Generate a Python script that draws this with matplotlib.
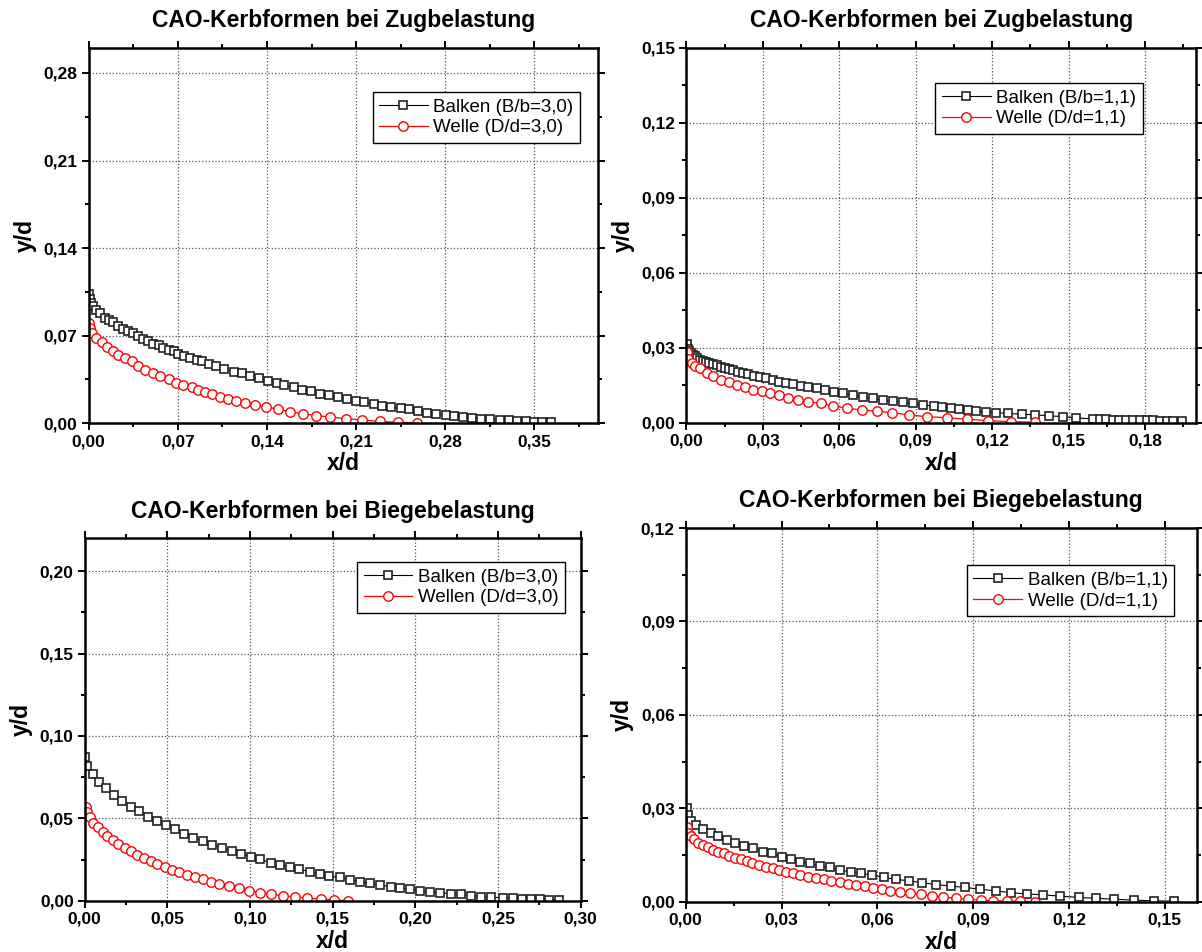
import matplotlib
matplotlib.use("Agg")
import matplotlib.pyplot as plt
from matplotlib.ticker import MultipleLocator, FuncFormatter

plt.rcParams['font.family'] = ['Liberation Sans', 'DejaVu Sans']

# --- Zugbelastung, B/b = D/d = 3,0 ---
x_balken_z30 = [0.0, 0.0008, 0.002, 0.0036, 0.0057, 0.0089, 0.0128, 0.0162, 0.0194, 0.0233,
                0.0272, 0.0312, 0.0351, 0.039, 0.043, 0.0469, 0.0508, 0.0555, 0.0587, 0.0634,
                0.0666, 0.0705, 0.075, 0.0797, 0.085, 0.0889, 0.0941, 0.1002, 0.1065, 0.1144,
                0.1204, 0.1269, 0.1334, 0.1405, 0.1479, 0.1537, 0.161, 0.1676, 0.1747, 0.1814,
                0.1885, 0.1956, 0.203, 0.2103, 0.2166, 0.2239, 0.2305, 0.2376, 0.2449, 0.2515,
                0.2585, 0.2654, 0.2725, 0.2803, 0.2869, 0.2943, 0.3013, 0.3084, 0.3154, 0.323,
                0.3301, 0.3367, 0.3432, 0.3498, 0.3564, 0.363]
y_balken_z30 = [0.103, 0.099, 0.096, 0.0934, 0.0908, 0.0881, 0.0845, 0.0828, 0.0809, 0.078,
                0.0753, 0.0734, 0.0718, 0.0700, 0.0675, 0.0660, 0.0636, 0.0625, 0.0604, 0.0588,
                0.0574, 0.0556, 0.054, 0.0522, 0.0507, 0.0495, 0.0474, 0.0455, 0.0436, 0.041,
                0.0399, 0.0375, 0.0362, 0.0338, 0.0325, 0.0302, 0.0292, 0.0265, 0.0255, 0.0237,
                0.0226, 0.0209, 0.0195, 0.0181, 0.0168, 0.0152, 0.0139, 0.0128, 0.0119, 0.011,
                0.0097, 0.0085, 0.0078, 0.007, 0.0059, 0.0051, 0.0044, 0.0038, 0.0032, 0.003,
                0.0024, 0.0019, 0.0016, 0.0013, 0.001, 0.0008]
x_welle_z30 = [0.0, 0.0008, 0.0024, 0.0057, 0.0102, 0.0142, 0.0189, 0.0233, 0.0286, 0.0338,
               0.039, 0.0443, 0.0504, 0.0561, 0.0627, 0.0687, 0.0744, 0.081, 0.0862, 0.0915,
               0.0968, 0.1028, 0.1094, 0.1159, 0.123, 0.1308, 0.1395, 0.1484, 0.1578, 0.1684,
               0.1788, 0.1893, 0.2017, 0.2148, 0.2286, 0.2428, 0.258]
y_welle_z30 = [0.080, 0.076, 0.0721, 0.0681, 0.0646, 0.0609, 0.0579, 0.0547, 0.0521, 0.0494,
               0.0454, 0.0427, 0.0401, 0.0379, 0.0353, 0.0325, 0.0302, 0.0288, 0.0267, 0.0253,
               0.0232, 0.0213, 0.0190, 0.0177, 0.0165, 0.0147, 0.0132, 0.0112, 0.0093, 0.0075,
               0.0061, 0.0050, 0.0037, 0.0026, 0.0015, 0.0008, 0.0003]

# --- Zugbelastung, B/b = D/d = 1,1 ---
x_balken_z11 = [0.0003, 0.0007, 0.0011, 0.0018, 0.0024, 0.0033, 0.0042, 0.0053, 0.0064, 0.0077,
                0.009, 0.0103, 0.0119, 0.0134, 0.0151, 0.0168, 0.0184, 0.0203, 0.0223, 0.0243,
                0.0265, 0.0289, 0.0312, 0.0338, 0.0364, 0.0391, 0.0419, 0.0448, 0.0478, 0.0511,
                0.0544, 0.0579, 0.0616, 0.0652, 0.0692, 0.0731, 0.077, 0.081, 0.0849, 0.089,
                0.093, 0.0972, 0.1005, 0.1038, 0.107, 0.1105, 0.1138, 0.1175, 0.1215, 0.1263,
                0.1316, 0.1368, 0.1424, 0.1477, 0.1529, 0.1597, 0.1623, 0.1647, 0.1673, 0.1699,
                0.1726, 0.1754, 0.178, 0.1807, 0.1833, 0.1859, 0.1885, 0.1911, 0.1944]
y_balken_z11 = [0.0316, 0.0296, 0.0287, 0.0279, 0.0272, 0.0266, 0.0259, 0.0252, 0.0247, 0.0243,
                0.0239, 0.0234, 0.023, 0.0223, 0.0219, 0.0214, 0.021, 0.0203, 0.0197, 0.0193,
                0.0187, 0.0181, 0.0177, 0.017, 0.0163, 0.0159, 0.0154, 0.0147, 0.0141, 0.0137,
                0.013, 0.0123, 0.0117, 0.011, 0.0104, 0.0097, 0.009, 0.0087, 0.0081, 0.0077,
                0.0071, 0.0066, 0.0061, 0.0057, 0.0053, 0.0049, 0.0046, 0.0043, 0.004, 0.0037,
                0.0034, 0.0031, 0.0028, 0.0024, 0.0019, 0.0015, 0.0014, 0.0013, 0.0012, 0.0012,
                0.0011, 0.001, 0.001, 0.0009, 0.0009, 0.0008, 0.0007, 0.0006, 0.0005]
x_welle_z11 = [0.0001, 0.0007, 0.002, 0.0033, 0.0053, 0.0079, 0.0105, 0.0134, 0.0168, 0.0199,
               0.023, 0.0262, 0.0295, 0.0328, 0.0364, 0.04, 0.0439, 0.0478, 0.0527, 0.0576,
               0.0631, 0.0688, 0.0747, 0.0806, 0.0875, 0.0945, 0.1022, 0.11, 0.1185, 0.1273,
               0.1368]
y_welle_z11 = [0.0283, 0.0256, 0.0237, 0.0226, 0.0217, 0.0199, 0.0186, 0.0172, 0.0162, 0.015,
               0.0141, 0.0131, 0.0125, 0.0117, 0.011, 0.01, 0.0091, 0.0084, 0.0077, 0.0067,
               0.0058, 0.0051, 0.0046, 0.004, 0.0031, 0.0024, 0.002, 0.0014, 0.0008, 0.0004,
               0.0002]

# --- Biegebelastung, B/b = D/d = 3,0 ---
x_balken_b30 = [0.0002, 0.0012, 0.0048, 0.0088, 0.0129, 0.0177, 0.0224, 0.0278, 0.033, 0.0385,
                0.0439, 0.0492, 0.0546, 0.0601, 0.0657, 0.0714, 0.0768, 0.0829, 0.0889, 0.0944,
                0.1004, 0.1061, 0.1125, 0.1181, 0.1242, 0.1298, 0.1363, 0.1423, 0.148, 0.1544,
                0.1605, 0.1665, 0.1726, 0.1786, 0.1851, 0.1907, 0.1968, 0.2028, 0.2089, 0.2149,
                0.2214, 0.2275, 0.2337, 0.2396, 0.2456, 0.2529, 0.2589, 0.2644, 0.2698, 0.2754,
                0.2811, 0.2868]
y_balken_b30 = [0.0874, 0.0818, 0.0769, 0.0723, 0.0682, 0.0642, 0.0607, 0.0571, 0.0545, 0.051,
                0.0484, 0.046, 0.0433, 0.0405, 0.0383, 0.0362, 0.0338, 0.0322, 0.0302, 0.0284,
                0.0267, 0.0251, 0.0231, 0.0217, 0.0203, 0.0191, 0.0176, 0.016, 0.015, 0.0141,
                0.0127, 0.0116, 0.0106, 0.0095, 0.0085, 0.0076, 0.0069, 0.0061, 0.0055, 0.0049,
                0.0042, 0.0038, 0.0031, 0.0025, 0.0021, 0.0018, 0.0015, 0.0011, 0.0009, 0.0008,
                0.0006, 0.0004]
x_welle_b30 = [0.0008, 0.0016, 0.0032, 0.0052, 0.0082, 0.0109, 0.0137, 0.0169, 0.0203, 0.0244,
               0.0278, 0.0318, 0.0359, 0.0399, 0.0439, 0.0486, 0.0526, 0.0572, 0.0617, 0.0667,
               0.0714, 0.0762, 0.0814, 0.0875, 0.0935, 0.0996, 0.1061, 0.1125, 0.1198, 0.1272,
               0.1347, 0.1428, 0.1508, 0.1595]
y_welle_b30 = [0.0571, 0.054, 0.0506, 0.0474, 0.0446, 0.0419, 0.0393, 0.0369, 0.0344, 0.0318,
               0.0302, 0.0278, 0.0258, 0.0242, 0.0223, 0.0206, 0.0187, 0.0172, 0.0157, 0.0145,
               0.0132, 0.0116, 0.0102, 0.0089, 0.0075, 0.0061, 0.0049, 0.0041, 0.003, 0.0023,
               0.0015, 0.001, 0.0004, 0.0001]

# --- Biegebelastung, B/b = D/d = 1,1 ---
x_balken_b11 = [0.0003, 0.0008, 0.0016, 0.0032, 0.0055, 0.0078, 0.0102, 0.0128, 0.0154, 0.0182,
                0.0211, 0.0241, 0.0269, 0.03, 0.0329, 0.0359, 0.0388, 0.042, 0.0451, 0.0482,
                0.0516, 0.055, 0.0584, 0.062, 0.0657, 0.0699, 0.0741, 0.0784, 0.0831, 0.0876,
                0.0922, 0.097, 0.1019, 0.1068, 0.112, 0.1172, 0.123, 0.1284, 0.1342, 0.1404,
                0.1467, 0.1529]
y_balken_b11 = [0.030, 0.0279, 0.026, 0.0246, 0.0233, 0.0222, 0.0211, 0.0198, 0.019, 0.0179,
                0.0172, 0.0161, 0.0155, 0.0145, 0.0136, 0.0128, 0.0123, 0.0115, 0.011, 0.0102,
                0.0096, 0.0091, 0.0085, 0.0078, 0.0072, 0.0067, 0.0061, 0.0055, 0.005, 0.0046,
                0.004, 0.0035, 0.0029, 0.0025, 0.0022, 0.0018, 0.0014, 0.0011, 0.0008, 0.0005,
                0.0003, 0.0002]
x_welle_b11 = [0.0003, 0.0008, 0.0016, 0.0026, 0.0039, 0.0055, 0.0071, 0.0086, 0.0102, 0.012,
               0.0136, 0.0154, 0.0172, 0.0191, 0.0209, 0.023, 0.0251, 0.0272, 0.0293, 0.0313,
               0.0336, 0.0359, 0.0383, 0.0407, 0.0432, 0.0456, 0.0482, 0.0508, 0.0534, 0.056,
               0.0586, 0.0613, 0.0641, 0.0672, 0.0703, 0.0738, 0.0772, 0.0807, 0.0845, 0.0883,
               0.0925, 0.0963, 0.1005, 0.1047, 0.1095]
y_welle_b11 = [0.0241, 0.0222, 0.0211, 0.02, 0.019, 0.0182, 0.0175, 0.0166, 0.0161, 0.0155,
               0.0147, 0.0141, 0.0136, 0.0131, 0.0125, 0.0118, 0.0112, 0.0107, 0.0102, 0.0096,
               0.0091, 0.0086, 0.008, 0.0077, 0.0072, 0.0067, 0.0062, 0.0058, 0.0054, 0.0049,
               0.0044, 0.004, 0.0036, 0.0032, 0.0028, 0.0024, 0.0019, 0.0015, 0.0011, 0.0008,
               0.0005, 0.0003, 0.0002, 0.0001, 0.0]

title_zug = "CAO-Kerbformen bei Zugbelastung"
title_biege = "CAO-Kerbformen bei Biegebelastung"

comma_fmt = FuncFormatter(lambda v, pos: f"{v:.2f}".replace('.', ','))


def draw_panel(rect, xb, yb, xw, yw, labels, title, xmax, ymax, xstep, ystep, anchor):
    ax = fig.add_axes(rect)
    ax.plot(xb, yb, '-', color='black', lw=0.8, marker='s', ms=6,
            mfc='white', mec='#222222', mew=1.2, label=labels[0])
    ax.plot(xw, yw, '-', color='red', lw=0.9, marker='o', ms=6.8,
            mfc='white', mec='red', mew=1.0, label=labels[1])

    ax.set_xlim(0, xmax)
    ax.set_ylim(0, ymax)
    ax.xaxis.set_major_locator(MultipleLocator(xstep))
    ax.xaxis.set_minor_locator(MultipleLocator(xstep / 2))
    ax.yaxis.set_major_locator(MultipleLocator(ystep))
    ax.yaxis.set_minor_locator(MultipleLocator(ystep / 2))
    ax.xaxis.set_major_formatter(comma_fmt)
    ax.yaxis.set_major_formatter(comma_fmt)

    ax.grid(True, which='major', linestyle=':', color='#555555', lw=0.9)
    for s in ax.spines.values():
        s.set_linewidth(1.8)
    ax.tick_params(which='both', direction='out', top=True, right=True, width=1.4)
    ax.tick_params(which='major', length=5, labelsize=12.5, pad=3)
    ax.tick_params(which='minor', length=3)
    for lab in ax.get_xticklabels() + ax.get_yticklabels():
        lab.set_fontweight('bold')

    ax.set_xlabel("x/d", fontsize=16.5, fontweight='bold', labelpad=2)
    ax.set_ylabel("y/d", fontsize=16.5, fontweight='bold', labelpad=5)
    ax.set_title(title, fontsize=16.5, fontweight='bold', pad=15)

    leg = ax.legend(loc='upper right', bbox_to_anchor=anchor, fontsize=13.5,
                    frameon=True, fancybox=False, framealpha=1, edgecolor='black',
                    handlelength=2.6, handletextpad=0.3, labelspacing=0.2,
                    borderpad=0.35, borderaxespad=0)
    leg.get_frame().set_linewidth(1.0)
    return ax


fig = plt.figure(figsize=(12.02, 9.52), dpi=100)

draw_panel([0.0738, 0.5554, 0.4237, 0.3942], x_balken_z30, y_balken_z30, x_welle_z30, y_welle_z30,
           ["Balken (B/b=3,0)", "Welle (D/d=3,0)"], title_zug, 0.40, 0.30, 0.07, 0.07,
           (0.965, 0.883))
draw_panel([0.5711, 0.5560, 0.4238, 0.3936], x_balken_z11, y_balken_z11, x_welle_z11, y_welle_z11,
           ["Balken (B/b=1,1)", "Welle (D/d=1,1)"], title_zug, 0.20, 0.15, 0.03, 0.03,
           (0.896, 0.907))
draw_panel([0.0705, 0.0539, 0.4126, 0.3806], x_balken_b30, y_balken_b30, x_welle_b30, y_welle_b30,
           ["Balken (B/b=3,0)", "Wellen (D/d=3,0)"], title_biege, 0.30, 0.22, 0.05, 0.05,
           (0.969, 0.935))
draw_panel([0.5705, 0.0528, 0.4251, 0.3925], x_balken_b11, y_balken_b11, x_welle_b11, y_welle_b11,
           ["Balken (B/b=1,1)", "Welle (D/d=1,1)"], title_biege, 0.16, 0.12, 0.03, 0.03,
           (0.956, 0.901))

fig.savefig("out.png", dpi=100)
